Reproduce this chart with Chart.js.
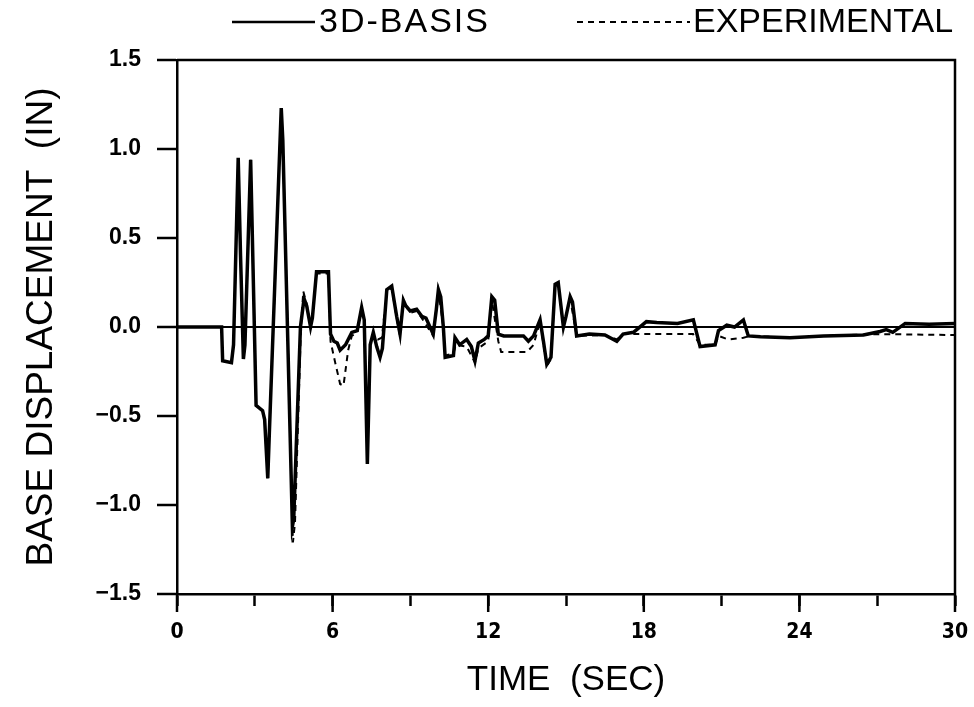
<!DOCTYPE html>
<html>
<head>
<meta charset="utf-8">
<script src="https://cdn.jsdelivr.net/npm/chart.js@4.4.1/dist/chart.umd.min.js"></script>
<style>
  html, body { margin: 0; padding: 0; background: #fff; }
  #chartBox { width: 974px; height: 707px; }
</style>
</head>
<body>
<div id="chartBox"><canvas id="baseChart" width="974" height="707"></canvas></div>
<script>
// time (sec) and base displacement (in)
const basisTime = [0, 1.72, 1.76, 2.1, 2.18, 2.36, 2.45, 2.56, 2.62, 2.84, 3.05, 3.3, 3.38, 3.5, 3.56, 4.02, 4.08, 4.45, 4.5, 4.76,
  4.9, 5.0, 5.15, 5.22, 5.38, 5.84, 5.92, 6.05, 6.18, 6.29, 6.5, 6.74, 6.95, 7.12, 7.22, 7.34, 7.45, 7.57, 7.7, 7.83,
  7.92, 8.09, 8.28, 8.47, 8.6, 8.73, 8.82, 8.99, 9.24, 9.44, 9.6, 9.88, 10.0, 10.08, 10.17, 10.27, 10.34, 10.66, 10.72, 10.9,
  11.17, 11.35, 11.49, 11.62, 11.85, 12.0, 12.14, 12.25, 12.39, 12.6, 13.36, 13.55, 13.75, 14.0, 14.13, 14.26, 14.42, 14.58, 14.7, 14.9,
  15.0, 15.16, 15.25, 15.41, 15.9, 16.5, 16.96, 17.2, 17.6, 18.1, 18.5, 19.3, 19.91, 20.17, 20.75, 20.88, 21.2, 21.5, 21.84, 22.03,
  22.5, 23.64, 24.93, 26.47, 27.11, 27.35, 27.6, 28.08, 29.0, 30];
const basisDisp = [0, 0, -0.19, -0.2, -0.1, 0.95, 0.4, -0.18, -0.1, 0.94, -0.44, -0.47, -0.52, -0.85, -0.6, 1.23, 1.05, -1.12, -1.08, 0.0,
  0.16, 0.12, 0.0, 0.05, 0.31, 0.31, -0.04, -0.08, -0.09, -0.13, -0.1, -0.03, -0.02, 0.11, 0.04, -0.77, -0.1, -0.03, -0.11, -0.17,
  -0.12, 0.21, 0.23, 0.06, -0.04, 0.15, 0.12, 0.09, 0.1, 0.06, 0.05, -0.04, 0.1, 0.21, 0.17, 0.0, -0.17, -0.16, -0.06, -0.1,
  -0.07, -0.11, -0.19, -0.09, -0.07, -0.05, 0.17, 0.15, -0.04, -0.05, -0.05, -0.08, -0.05, 0.04, -0.08, -0.21, -0.17, 0.24, 0.25, 0.0,
  0.06, 0.17, 0.14, -0.05, -0.04, -0.045, -0.08, -0.04, -0.03, 0.03, 0.025, 0.02, 0.04, -0.11, -0.1, -0.02, 0.01, 0.0, 0.04, -0.05,
  -0.055, -0.06, -0.05, -0.045, -0.025, -0.015, -0.03, 0.02, 0.015, 0.02];

const expTime = [0, 1.72, 1.76, 2.1, 2.18, 2.36, 2.45, 2.56, 2.62, 2.84, 3.05, 3.3, 3.38, 3.5, 3.56, 4.02, 4.08, 4.47, 4.55, 4.78,
  4.87, 5.0, 5.15, 5.22, 5.38, 5.84, 5.92, 6.1, 6.29, 6.42, 6.6, 6.74, 6.95, 7.12, 7.22, 7.34, 7.45, 7.57, 7.75, 7.9,
  8.09, 8.28, 8.47, 8.6, 8.73, 8.99, 9.24, 9.44, 9.88, 10.08, 10.27, 10.34, 10.66, 10.75, 11.17, 11.49, 11.62, 12.0, 12.14, 12.39,
  12.5, 13.5, 13.75, 14.0, 14.26, 14.42, 14.58, 14.7, 14.9, 15.16, 15.41, 16.5, 16.96, 17.2, 19.9, 20.17, 20.75, 20.88, 21.25, 21.84,
  22.1, 23.64, 24.93, 27.11, 30];
const expDisp = [0, 0, -0.19, -0.2, -0.1, 0.95, 0.4, -0.18, -0.1, 0.94, -0.44, -0.47, -0.52, -0.85, -0.6, 1.22, 1.05, -1.21, -1.1, 0.0,
  0.2, 0.13, 0.0, 0.05, 0.3, 0.3, -0.08, -0.2, -0.32, -0.33, -0.13, -0.05, -0.03, 0.1, 0.04, -0.75, -0.1, -0.04, -0.07, -0.06,
  0.2, 0.22, 0.05, -0.05, 0.14, 0.08, 0.09, 0.05, -0.05, 0.2, 0.0, -0.16, -0.15, -0.1, -0.11, -0.2, -0.12, -0.08, 0.15, -0.08,
  -0.14, -0.14, -0.1, 0.03, -0.22, -0.18, 0.23, 0.24, 0.0, 0.16, -0.05, -0.045, -0.07, -0.04, -0.04, -0.1, -0.1, -0.05, -0.07, -0.06,
  -0.05, -0.06, -0.05, -0.04, -0.045];

const seriesNames = ["3D-BASIS", "EXPERIMENTAL"];
const yTickValues = [-1.5, -1.0, -0.5, 0.0, 0.5, 1.0, 1.5];
const xTickValues = [0, 3, 6, 9, 12, 15, 18, 21, 24, 27, 30];
const xLabelValues = [0, 6, 12, 18, 24, 30];

const toPoints = (xs, ys) => xs.map((x, i) => ({ x: x, y: ys[i] }));

// top + right frame, longer major x ticks, and the line legend above the plot
const framePlugin = {
  id: "frame",
  afterDraw(chart) {
    const { ctx, chartArea: a, scales } = chart;
    ctx.save();
    ctx.strokeStyle = "#000";
    ctx.lineWidth = 2.5;
    ctx.beginPath();
    ctx.moveTo(a.left, a.top);
    ctx.lineTo(a.right, a.top);
    ctx.lineTo(a.right, a.bottom);
    ctx.stroke();

    xLabelValues.forEach(v => {
      const px = scales.x.getPixelForValue(v);
      ctx.beginPath();
      ctx.moveTo(px, a.bottom);
      ctx.lineTo(px, a.bottom + 18);
      ctx.stroke();
    });

    // legend
    const ly = 22;
    ctx.font = "34px 'Liberation Sans', Arial, sans-serif";
    ctx.fillStyle = "#000";
    ctx.textBaseline = "middle";
    ctx.lineWidth = 2.5;
    ctx.setLineDash([]);
    ctx.beginPath();
    ctx.moveTo(232, ly);
    ctx.lineTo(315, ly);
    ctx.stroke();
    ctx.letterSpacing = "2px";
    ctx.fillText(chart.data.datasets[0].label, 319, ly + 1);
    ctx.letterSpacing = "0px";

    ctx.lineWidth = 2;
    ctx.setLineDash([6, 5]);
    ctx.beginPath();
    ctx.moveTo(577, ly);
    ctx.lineTo(690, ly);
    ctx.stroke();
    ctx.setLineDash([]);
    ctx.fillText(chart.data.datasets[1].label, 693, ly + 1);
    ctx.restore();
  }
};

new Chart(document.getElementById("baseChart").getContext("2d"), {
  type: "line",
  data: {
    datasets: [
      {
        label: seriesNames[0],
        data: toPoints(basisTime, basisDisp),
        borderColor: "#000",
        borderWidth: 3.5,
        pointRadius: 0,
        tension: 0,
        fill: false
      },
      {
        label: seriesNames[1],
        data: toPoints(expTime, expDisp),
        borderColor: "#000",
        borderWidth: 2,
        borderDash: [6, 5],
        pointRadius: 0,
        tension: 0,
        fill: false
      }
    ]
  },
  options: {
    responsive: false,
    animation: false,
    devicePixelRatio: 1,
    layout: { padding: { top: 60, right: 19, bottom: 0, left: 0 } },
    plugins: {
      legend: { display: false },
      tooltip: { enabled: false }
    },
    scales: {
      x: {
        type: "linear",
        min: 0,
        max: 30,
        afterBuildTicks: scale => { scale.ticks = xTickValues.map(v => ({ value: v })); },
        afterFit: scale => {
          scale.height = 113;
          scale.paddingLeft = 0;
          scale.paddingRight = 0;
        },
        border: { display: true, color: "#000", width: 2.5 },
        grid: {
          drawOnChartArea: false,
          drawTicks: true,
          color: "#000",
          tickColor: "#000",
          tickLength: 12,
          tickWidth: 2.5
        },
        ticks: {
          color: "#000",
          padding: 14,
          maxRotation: 0,
          autoSkip: false,
          font: { family: "'Liberation Sans Narrow', 'DejaVu Sans Condensed', 'Liberation Sans', sans-serif", size: 21, weight: "bold" },
          callback: v => (xLabelValues.includes(v) ? String(v) : "")
        },
        title: {
          display: true,
          text: "TIME  (SEC)",
          color: "#000",
          font: { family: "'Liberation Sans', Arial, sans-serif", size: 35 },
          padding: { top: 0, bottom: 6 }
        }
      },
      y: {
        type: "linear",
        min: -1.5,
        max: 1.5,
        afterBuildTicks: scale => { scale.ticks = yTickValues.map(v => ({ value: v })); },
        afterFit: scale => { scale.width = 177; },
        border: { display: true, color: "#000", width: 2.5 },
        grid: {
          drawOnChartArea: true,
          drawTicks: true,
          color: ctx => (ctx.tick && ctx.tick.value === 0 ? "#000" : "rgba(0,0,0,0)"),
          lineWidth: 2,
          tickColor: "#000",
          tickLength: 20,
          tickWidth: 2.5
        },
        ticks: {
          color: "#000",
          padding: 16,
          autoSkip: false,
          font: { family: "'Liberation Sans', Arial, sans-serif", size: 23, weight: "bold" },
          callback: v => (v < 0 ? "\u2212" : "") + Math.abs(v).toFixed(1)
        },
        title: {
          display: true,
          text: "BASE DISPLACEMENT  (IN)",
          color: "#000",
          font: { family: "'Liberation Sans', Arial, sans-serif", size: 37 },
          padding: { top: 20, bottom: 0 }
        }
      }
    }
  },
  plugins: [framePlugin]
});
</script>
</body>
</html>
